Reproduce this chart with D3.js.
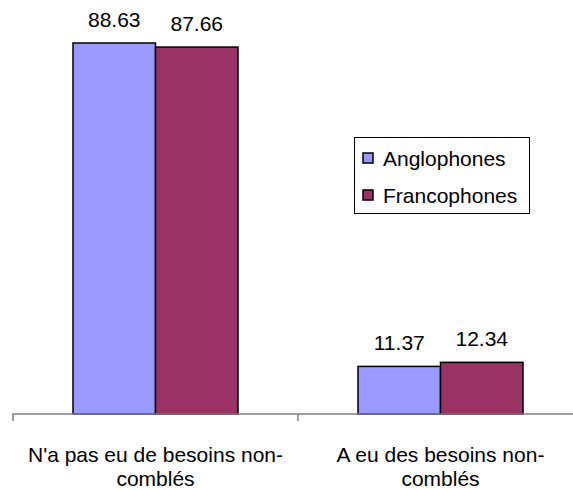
<!DOCTYPE html>
<html>
<head>
<meta charset="utf-8">
<script src="https://cdn.jsdelivr.net/npm/d3@7"></script>
<style>
  body { margin: 0; background: #fff; }
  text { font-family: "Liberation Sans", Arial, sans-serif; fill: #000; }
</style>
</head>
<body>
<div id="chart"></div>
<script>
// data
const categories = ["N'a pas eu de besoins non-|comblés", "A eu des besoins non-|comblés"];
const seriesNames = ["Anglophones", "Francophones"];
const anglophones = [88.63, 11.37];
const francophones = [87.66, 12.34];
const colors = ["#9999FF", "#993366"];

// frame
const FRAME_WIDTH = 573;
const FRAME_HEIGHT = 490;
const AXIS_Y = 414;
const X_LEFT = 13;
const BAND = 285;
const FS = 21;

const xScale = d3.scaleBand()
  .domain(categories)
  .range([X_LEFT, X_LEFT + BAND * categories.length])
  .paddingInner(0).paddingOuter(0);

const innerScale = d3.scaleBand()
  .domain(seriesNames)
  .range([60, BAND - 60])
  .padding(0);

const yScale = d3.scaleLinear()
  .domain([0, 100])
  .range([AXIS_Y, AXIS_Y - 418.6]);

const svg = d3.select("#chart")
  .append("svg")
    .attr("width", FRAME_WIDTH)
    .attr("height", FRAME_HEIGHT);

const rows = categories.map((c, i) => ({cat: c, vals: [anglophones[i], francophones[i]]}));

const groups = svg.selectAll(".grp")
  .data(rows)
  .enter().append("g")
    .attr("transform", d => "translate(" + xScale(d.cat) + ",0)");

groups.selectAll("rect")
  .data(d => d.vals.map((v, j) => ({name: seriesNames[j], v: v, j: j})))
  .enter().append("rect")
    .attr("x", d => innerScale(d.name))
    .attr("y", d => yScale(d.v))
    .attr("width", innerScale.bandwidth())
    .attr("height", d => AXIS_Y - yScale(d.v))
    .attr("fill", d => colors[d.j])
    .attr("stroke", "#000")
    .attr("stroke-width", 1.5);

groups.selectAll(".val")
  .data(d => d.vals.map((v, j) => ({name: seriesNames[j], v: v})))
  .enter().append("text")
    .attr("x", d => innerScale(d.name) + innerScale.bandwidth() / 2)
    .attr("y", d => yScale(d.v) - 16)
    .attr("text-anchor", "middle")
    .attr("font-size", FS + "px")
    .text(d => d.v.toFixed(2));

// x axis
const axis = svg.append("g")
  .attr("transform", "translate(0," + AXIS_Y + ")")
  .call(d3.axisBottom(xScale).tickSize(0).tickFormat(""));
axis.select(".domain").attr("stroke", "#808080").attr("stroke-width", 1.5)
  .attr("d", "M" + X_LEFT + ",7V0H" + (X_LEFT + BAND * 2));
axis.selectAll(".tick").remove();
svg.append("line")
  .attr("x1", X_LEFT + BAND).attr("x2", X_LEFT + BAND)
  .attr("y1", AXIS_Y).attr("y2", AXIS_Y + 7)
  .attr("stroke", "#808080").attr("stroke-width", 1.5);

// category labels
categories.forEach(c => {
  const t = svg.append("text")
    .attr("text-anchor", "middle")
    .attr("font-size", FS + "px")
    .attr("x", xScale(c) + BAND / 2)
    .attr("y", 462);
  c.split("|").forEach((line, k) => {
    t.append("tspan")
      .attr("x", xScale(c) + BAND / 2)
      .attr("dy", k === 0 ? 0 : 24)
      .text(line);
  });
});

// legend
const legend = svg.append("g");
legend.append("rect")
  .attr("x", 354.5).attr("y", 137.5)
  .attr("width", 175).attr("height", 76)
  .attr("fill", "#fff")
  .attr("stroke", "#000").attr("stroke-width", 1);
seriesNames.forEach((n, i) => {
  legend.append("rect")
    .attr("x", 363).attr("y", 153 + i * 37)
    .attr("width", 10).attr("height", 10)
    .attr("fill", colors[i])
    .attr("stroke", "#000").attr("stroke-width", 1.5);
  legend.append("text")
    .attr("x", 383).attr("y", 166 + i * 37)
    .attr("font-size", FS + "px")
    .text(n);
});
</script>
</body>
</html>
